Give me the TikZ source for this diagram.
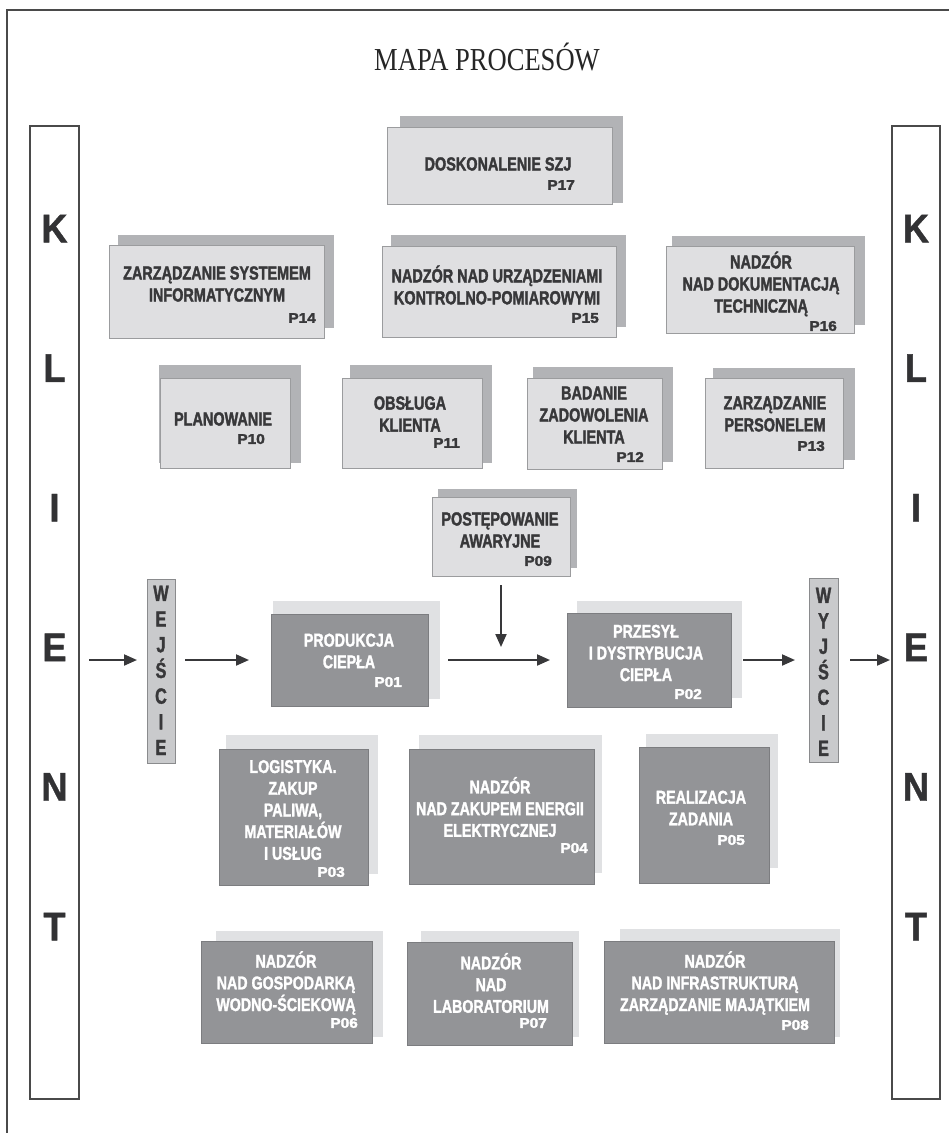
\documentclass[tikz,border=0pt]{standalone}
\usepackage{fontspec}
\setmainfont{Liberation Serif}
\newfontfamily\titlefont{Liberation Serif}[FakeStretch=0.83]
\newfontfamily\lightfont{Liberation Sans}[FakeStretch=0.76,FakeBold=1.8]
\newfontfamily\darkfont{Liberation Sans}[FakeStretch=0.77,FakeBold=1.5]
\newfontfamily\tagfont{Liberation Sans}[FakeStretch=1.1,FakeBold=2.5]
\newfontfamily\sidefont{Liberation Sans}[FakeStretch=0.9,FakeBold=1]
\newfontfamily\letterfont{Liberation Sans}[FakeStretch=0.74,FakeBold=1.5]
\usetikzlibrary{arrows.meta,fit}

\definecolor{lightfill}{HTML}{DFDFE1}
\definecolor{lightshade}{HTML}{B2B3B6}
\definecolor{lightedge}{HTML}{9B9C9E}
\definecolor{darkfill}{HTML}{939497}
\definecolor{darkshade}{HTML}{E0E1E3}
\definecolor{darkedge}{HTML}{7C7D80}
\definecolor{ink}{HTML}{38383A}
\definecolor{tagfill}{HTML}{C9CACC}
\definecolor{tagedge}{HTML}{8A8B8D}
\definecolor{frameline}{HTML}{4A4A4A}

% process box: shadow first, then the framed front rectangle
\newcommand\procbox[5]{%
  \fill[#2 shade] #5;
  \node[#2 box, fit={#3 #4}] (#1) {};
}

\tikzset{
  light box/.style={draw=lightedge, fill=lightfill, line width=0.9pt, inner sep=0pt, outer sep=0pt},
  light shade/.style={fill=lightshade},
  dark box/.style={draw=darkedge, fill=darkfill, line width=0.9pt, inner sep=0pt, outer sep=0pt},
  dark shade/.style={fill=darkshade},
  light text/.style={text=ink, align=center, inner sep=0pt,
    font=\lightfont\bfseries\fontsize{19}{22}\selectfont},
  dark text/.style={text=white, align=center, inner sep=0pt,
    font=\darkfont\bfseries\fontsize{18.5}{21.7}\selectfont},
  light tag/.style={text=ink, anchor=east, inner sep=0pt,
    font=\tagfont\bfseries\fontsize{14}{14}\selectfont},
  dark tag/.style={text=white, anchor=east, inner sep=0pt,
    font=\tagfont\bfseries\fontsize{14}{14}\selectfont},
  side bar/.style={draw=frameline, fill=white, line width=1.2pt, inner sep=0pt, outer sep=0pt},
  side letter/.style={text=ink!90!black, inner sep=0pt, text height=28.6pt, text depth=0pt,
    font=\sidefont\bfseries\fontsize{40}{40}\selectfont},
  gate box/.style={draw=tagedge, fill=tagfill, line width=0.9pt, inner sep=0pt, outer sep=0pt},
  gate letter/.style={text=ink, inner sep=0pt, text height=15.7pt, text depth=0pt,
    font=\letterfont\bfseries\fontsize{22}{22}\selectfont},
  conn/.style={draw=ink, line width=2pt, -{Triangle[length=13pt,width=11pt]}},
}

\begin{document}
\begin{tikzpicture}[x=1pt,y=-1pt]
\useasboundingbox (0,0) rectangle (949,1133);
\fill[white] (0,0) rectangle (949,1133);

% page frame (top and left edges)
\draw[frameline, line width=1.1pt] (7,1133) -- (7,10) -- (949,10);

% title
\node[font=\titlefont\fontsize{32}{34}\selectfont, text=black!85] (title) at (487,57) {MAPA PROCESÓW};

% customer bars
\node[side bar, fit={(30,126) (79,1099)}] (klientL) {};
\node[side bar, fit={(892,126) (940,1099)}] (klientR) {};
\foreach \ch [count=\i from 0] in {K,L,I,E,N,T} {
  \node[side letter] (kL-\i) at (54.5,{228+139.6*\i}) {\ch};
  \node[side letter] (kR-\i) at (916,{228+139.6*\i}) {\ch};
}

% input and output gates
\node[gate box, fit={(147,579) (175,763)}] (wej) {};
\foreach \ch [count=\i from 0] in {W,E,J,Ś,C,I,E}
  \node[gate letter] (wej-\i) at (161,{593+25.7*\i}) {\ch};
\node[gate box, fit={(809,578) (838,762)}] (wyj) {};
\foreach \ch [count=\i from 0] in {W,Y,J,Ś,C,I,E}
  \node[gate letter] (wyj-\i) at (823.5,{595+25.5*\i}) {\ch};

% supporting processes
\procbox{p17}{light}{(387,127)}{(612,204)}{(400,116) rectangle (623,203)}
\node[light text] (p17-t) at (498,164) {DOSKONALENIE SZJ};
\node[light tag] (p17-n) at (575,185) {P17};

\procbox{p14}{light}{(109,245)}{(324,338)}{(118,235) rectangle (334,328)}
\node[light text] (p14-t) at (217,284) {ZARZĄDZANIE SYSTEMEM\\INFORMATYCZNYM};
\node[light tag] (p14-n) at (316,318) {P14};

\procbox{p15}{light}{(382,246)}{(616,337)}{(391,235) rectangle (626,327)}
\node[light text] (p15-t) at (497,285) {NADZÓR NAD URZĄDZENIAMI\\KONTROLNO-POMIAROWYMI};
\node[light tag] (p15-n) at (599,318) {P15};

\procbox{p16}{light}{(666,246)}{(854,333)}{(672,236) rectangle (865,325)}
\node[light text] (p16-t) at (761,284) {NADZÓR\\NAD DOKUMENTACJĄ\\TECHNICZNĄ};
\node[light tag] (p16-n) at (837,326) {P16};

\procbox{p10}{light}{(160,378)}{(290,468)}{(159,365) rectangle (301,463)}
\node[light text] (p10-t) at (223,419) {PLANOWANIE};
\node[light tag] (p10-n) at (265,439) {P10};

\procbox{p11}{light}{(342,378)}{(482,468)}{(350,365) rectangle (492,463)}
\node[light text] (p11-t) at (410,414) {OBSŁUGA\\KLIENTA};
\node[light tag] (p11-n) at (460,443) {P11};

\procbox{p12}{light}{(527,378)}{(662,469)}{(533,367) rectangle (673,462)}
\node[light text] (p12-t) at (594,415) {BADANIE\\ZADOWOLENIA\\KLIENTA};
\node[light tag] (p12-n) at (644,457) {P12};

\procbox{p13}{light}{(705,378)}{(843,468)}{(713,368) rectangle (855,460)}
\node[light text] (p13-t) at (775,414) {ZARZĄDZANIE\\PERSONELEM};
\node[light tag] (p13-n) at (825,446) {P13};

\procbox{p09}{light}{(432,497)}{(570,576)}{(438,489) rectangle (577,568)}
\node[light text] (p09-t) at (500,530) {POSTĘPOWANIE\\AWARYJNE};
\node[light tag] (p09-n) at (552,561) {P09};

% main and auxiliary processes
\procbox{p01}{dark}{(271,614)}{(428,706)}{(273,601) rectangle (440,699)}
\node[dark text] (p01-t) at (349,651) {PRODUKCJA\\CIEPŁA};
\node[dark tag] (p01-n) at (402,682) {P01};

\procbox{p02}{dark}{(567,613)}{(731,707)}{(577,601) rectangle (742,698)}
\node[dark text] (p02-t) at (646,653) {PRZESYŁ\\I DYSTRYBUCJA\\CIEPŁA};
\node[dark tag] (p02-n) at (702,694) {P02};

\procbox{p03}{dark}{(219,749)}{(368,885)}{(226,735) rectangle (378,874)}
\node[dark text] (p03-t) at (293,810) {LOGISTYKA.\\ZAKUP\\PALIWA,\\MATERIAŁÓW\\I USŁUG};
\node[dark tag] (p03-n) at (345,872) {P03};

\procbox{p04}{dark}{(409,749)}{(594,884)}{(419,735) rectangle (602,873)}
\node[dark text] (p04-t) at (500,807) {NADZÓR\\NAD ZAKUPEM ENERGII\\ELEKTRYCZNEJ};
\node[dark tag] (p04-n) at (588,848) {P04};

\procbox{p05}{dark}{(639,747)}{(769,883)}{(646,734) rectangle (778,868)}
\node[dark text] (p05-t) at (701,808) {REALIZACJA\\ZADANIA};
\node[dark tag] (p05-n) at (745,840) {P05};

\procbox{p06}{dark}{(201,941)}{(372,1043)}{(216,931) rectangle (383,1037)}
\node[dark text] (p06-t) at (286,983) {NADZÓR\\NAD GOSPODARKĄ\\WODNO-ŚCIEKOWĄ};
\node[dark tag] (p06-n) at (358,1023) {P06};

\procbox{p07}{dark}{(407,942)}{(572,1045)}{(421,931) rectangle (579,1037)}
\node[dark text] (p07-t) at (491,983) {NADZÓR\\NAD\\LABORATORIUM};
\node[dark tag] (p07-n) at (547,1023) {P07};

\procbox{p08}{dark}{(604,941)}{(834,1043)}{(620,929) rectangle (840,1037)}
\node[dark text] (p08-t) at (715,983) {NADZÓR\\NAD INFRASTRUKTURĄ\\ZARZĄDZANIE MAJĄTKIEM};
\node[dark tag] (p08-n) at (809,1025) {P08};

% flow of the main process
\coordinate (merge) at (p09.south |- p01);
\draw[conn, shorten <=10pt, shorten >=10pt] (klientL.east |- p01) -- (wej.west |- p01);
\draw[conn, shorten <=10pt, shorten >=22pt] (wej.east |- p01) -- (p01.west);
\draw[conn, shorten <=20pt, shorten >=17pt] (p01.east) -- (p02.west);
\draw[conn, shorten <=9pt, shorten >=13pt] (p09.south) -- (merge);
\draw[conn, shorten <=12pt, shorten >=14pt] (p02.east) -- (wyj.west |- p02);
\draw[conn, shorten <=12pt, shorten >=2pt] (wyj.east |- p02) -- (klientR.west |- p02);
\end{tikzpicture}
\end{document}
